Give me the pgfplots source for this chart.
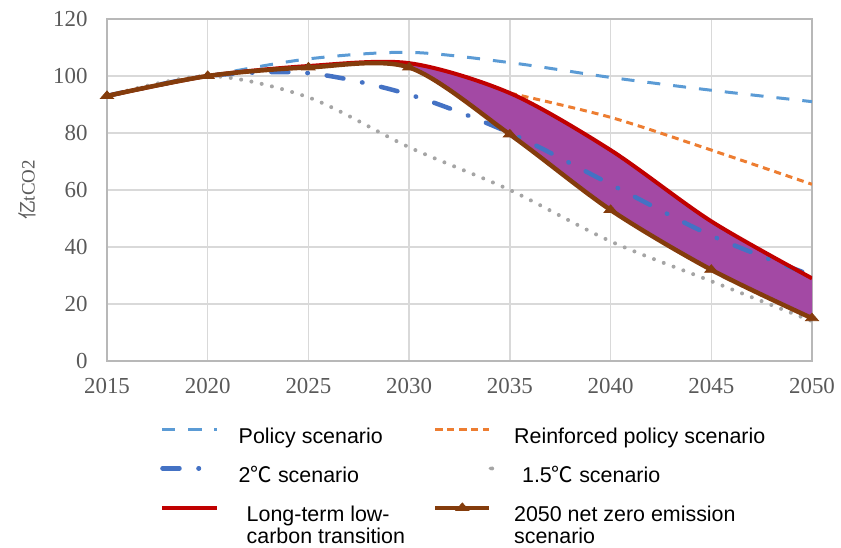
\documentclass[border=0pt]{standalone}
\usepackage{fontspec}
\setmainfont{Liberation Sans}
\newfontfamily\serif{Liberation Serif}
\newfontfamily\cjk{Noto Sans CJK SC}
\usepackage{pgfplots}
\pgfplotsset{compat=1.18}
\usepgfplotslibrary{fillbetween}

\definecolor{policy}{HTML}{5B9BD5}
\definecolor{reinf}{HTML}{ED7D31}
\definecolor{twodeg}{HTML}{4472C4}
\definecolor{onefive}{HTML}{A5A5A5}
\definecolor{lowcarbon}{HTML}{C00000}
\definecolor{netzero}{HTML}{843C0C}
\definecolor{band}{RGB}{163,73,164}
\definecolor{gridgray}{HTML}{D9D9D9}
\definecolor{ticktext}{HTML}{595959}

% two-line legend text, aligned on its first line
\newcommand{\twolines}[2]{\begin{tabular}[t]{@{}l@{}}#1\\#2\end{tabular}}

\begin{document}
\begin{tikzpicture}
\begin{axis}[
  set layers,
  at={(107bp,187bp)}, anchor=south west,
  scale only axis, width=705bp, height=342bp,
  xmin=2015, xmax=2050, ymin=0, ymax=120,
  xtick={2015,2020,...,2050}, ytick={0,20,...,120},
  major tick length=0pt,
  grid=major,
  major grid style={draw=gridgray, line width=1.3bp},
  axis line style={draw=gridgray!85!black, line width=1.3bp},
  tick label style={font=\serif\fontsize{23}{23}\selectfont, text=ticktext,
    /pgf/number format/assume math mode=true},
  xticklabel style={/pgf/number format/1000 sep={}, yshift=-14bp},
  yticklabel style={xshift=-16bp},
  ylabel={{\cjk 亿}tCO2},
  ylabel style={font=\serif\fontsize{19}{19}\selectfont, text=ticktext,
    at={(axis description cs:-0.113,0.5)}, anchor=center},
  legend columns=2,
  legend style={draw=none, fill=none,
    at={(axis description cs:0.071,-0.184)}, anchor=north west,
    font=\fontsize{21.5}{21}\selectfont, row sep=17bp,
    cells={anchor=base west},
    /tikz/every odd column/.append style={column sep=18bp},
    /tikz/column 2/.append style={column sep=26bp},
    /tikz/column 3/.append style={column sep=11bp}},
  legend image code/.code={
    \draw[#1, mark repeat=2, mark phase=2]
      plot coordinates {(0bp,14bp) (27bp,14bp) (54bp,14bp)};},
]

% scenario pathways, CO2 emissions
\addplot[policy, line width=3bp, dash pattern=on 13bp off 13bp, smooth]
  coordinates {(2015,93) (2020,100) (2025,106) (2030,108.3) (2035,104.7)
               (2040,99.5) (2045,95) (2050,91)};
\addlegendentry{Policy scenario}

\addplot[reinf, line width=3bp, dash pattern=on 7bp off 5bp, smooth]
  coordinates {(2035,94) (2040,85.5) (2045,74) (2050,62)};
\addlegendentry{Reinforced policy scenario}

\addplot[twodeg, line width=4.5bp, line cap=round,
         dash pattern=on 17bp off 19bp on 0.5bp off 19bp, smooth]
  coordinates {(2015,93) (2020,100) (2025,101) (2030,93.5) (2035,80)
               (2040,62) (2045,44) (2050,30)};
\addlegendentry{2{\cjk ℃} scenario}

\addplot[onefive, line width=4bp, line cap=round,
         dash pattern=on 0bp off 10.5bp, smooth,
         legend image code/.code={\fill[onefive] (55bp,14bp) circle (1.8bp);}]
  coordinates {(2015,93) (2020,100) (2025,92.5) (2030,75) (2035,60)
               (2040,42) (2045,28) (2050,14)};
\addlegendentry{\hspace{8bp}1.5{\cjk ℃} scenario}

\addplot[lowcarbon, line width=4bp, smooth, name path=low]
  coordinates {(2015,93) (2020,100) (2025,103.5) (2030,104.5) (2035,94)
               (2040,74) (2045,49) (2050,29)};
\addlegendentry{\twolines{\hspace{8bp}Long-term low-}{\hspace{8bp}carbon transition}}

\addplot[netzero, line width=4.5bp, smooth, name path=nz,
         mark=triangle*, mark size=5bp,
         mark options={solid, line width=0.8bp, xscale=1.5}]
  coordinates {(2015,93) (2020,100) (2025,103) (2030,103) (2035,79.5)
               (2040,53) (2045,32) (2050,15)};
\addlegendentry{\twolines{2050 net zero emission}{scenario}}

% band between the two transition pathways
\addplot[band] fill between[of=low and nz, soft clip={domain=2030:2050}];

\end{axis}
\pgfresetboundingbox
\path (0,0) rectangle (841bp,548bp);
\end{tikzpicture}
\end{document}
